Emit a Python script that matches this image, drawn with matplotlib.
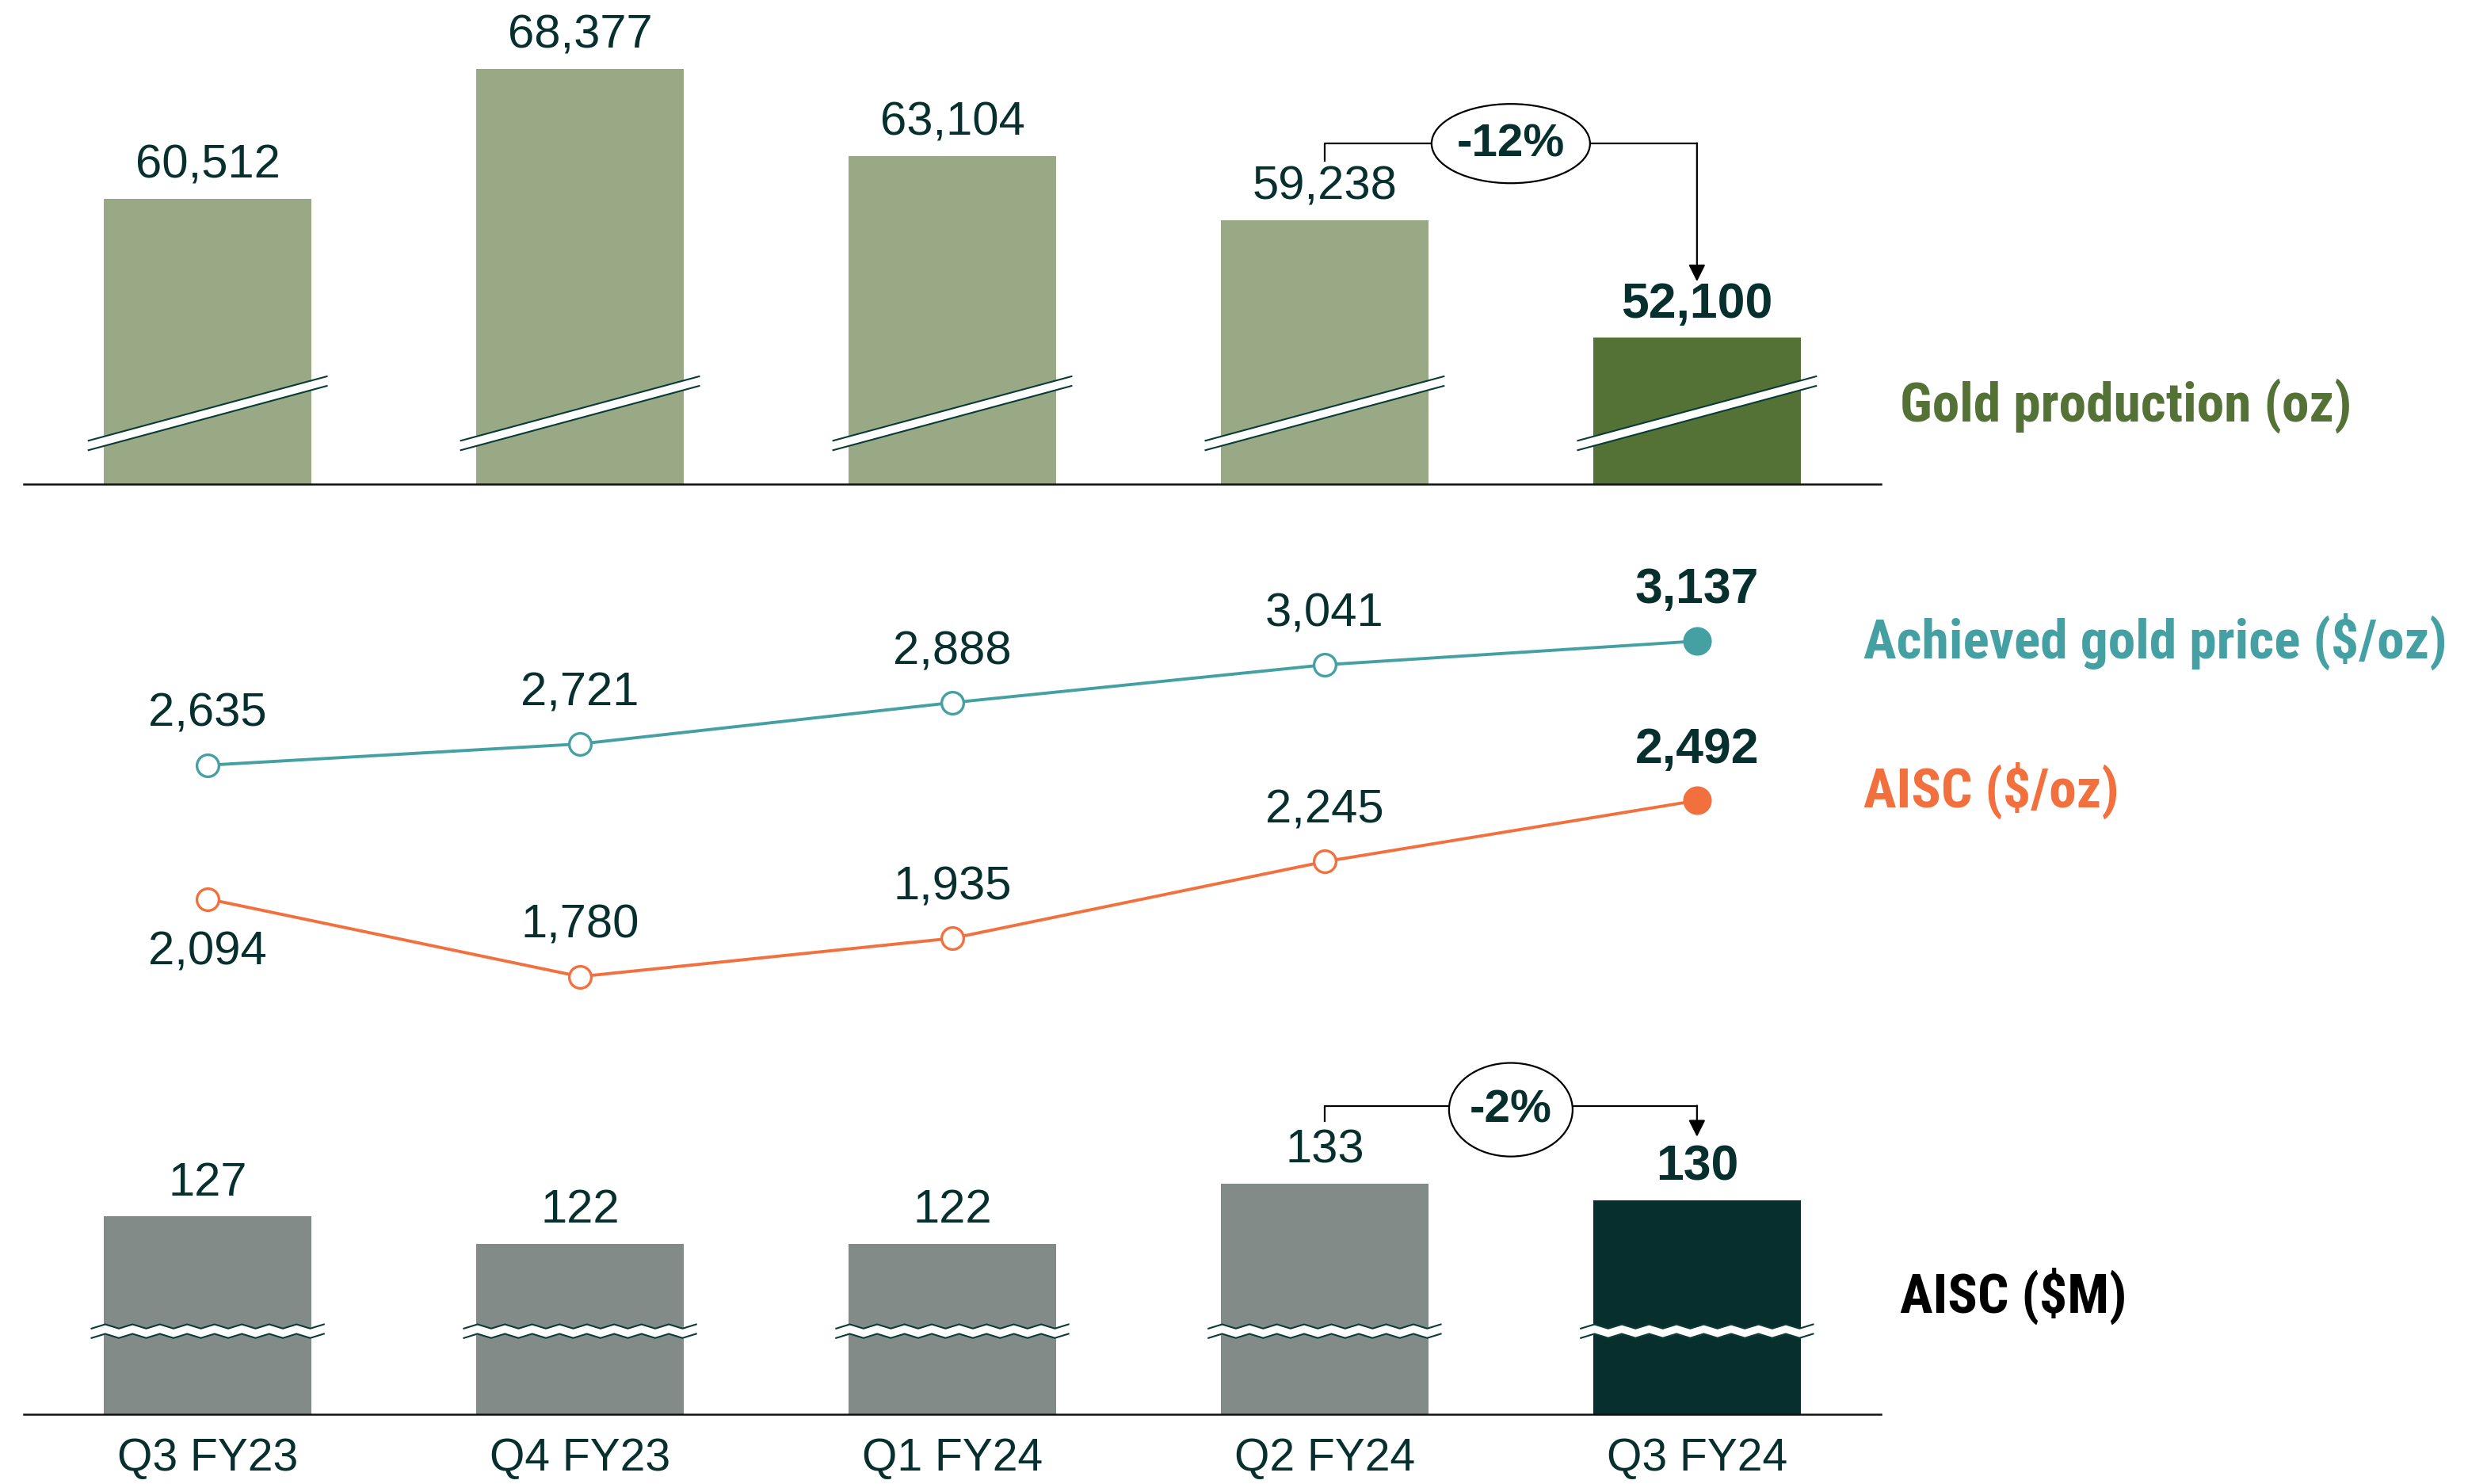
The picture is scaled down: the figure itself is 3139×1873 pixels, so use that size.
import numpy as np
import matplotlib
matplotlib.use("Agg")
import matplotlib.pyplot as plt
from matplotlib import font_manager
from matplotlib.patches import Ellipse, Polygon
from matplotlib.transforms import blended_transform_factory

# ---- data ----
quarters = ["Q3 FY23", "Q4 FY23", "Q1 FY24", "Q2 FY24", "Q3 FY24"]
gold_oz = [60512, 68377, 63104, 59238, 52100]
gold_price = [2635, 2721, 2888, 3041, 3137]
aisc_oz = [2094, 1780, 1935, 2245, 2492]
aisc_m = [127, 122, 122, 133, 130]
aisc_oz_below = [True, False, False, False, False]   # label under the point
gold_change = "-12%"
aisc_change = "-2%"

# ---- style ----
W, H, DPI = 3139, 1874, 200
DARK = "#062F2D"
GREEN_LIGHT = "#99A986"
GREEN = "#557236"
GREY = "#838B89"
TEAL = "#44A0A2"
ORANGE = "#F2703D"
NUM_FONT = ["Liberation Sans", "DejaVu Sans"]
NUM_SIZE, NUM_BOLD = 21.5, 22.5

# series names are a condensed bold face in the original; use one if we have it
installed = {f.name for f in font_manager.fontManager.ttflist}
LAB_FONT, LAB_SIZE = ["Liberation Sans", "DejaVu Sans"], 21.5
for cand, size in (("Roboto Condensed", 25), ("Liberation Sans Narrow", 25)):
    if cand in installed:
        LAB_FONT, LAB_SIZE = [cand, "DejaVu Sans"], size
        break

plt.rcParams["font.family"] = NUM_FONT

fig = plt.figure(figsize=(W / DPI, H / DPI), dpi=DPI)


def axes_px(left, top, right, bottom):
    return fig.add_axes([left / W, 1 - bottom / H, (right - left) / W, (bottom - top) / H])


ax1 = axes_px(30, 20, 2374, 612)
ax2 = axes_px(30, 700, 2374, 1300)
ax3 = axes_px(30, 1330, 2374, 1786)

x = np.arange(len(quarters))
bw = 0.557
for ax in (ax1, ax2, ax3):
    ax.set_xlim(-0.494, 4.494)
    for s in ("top", "right", "left"):
        ax.spines[s].set_visible(False)
    ax.spines["bottom"].set_color("#111111")
    ax.spines["bottom"].set_linewidth(0.9)
    ax.set_yticks([])
    ax.tick_params(axis="x", length=0)
    ax.set_xticks([])
    ax.patch.set_alpha(0)
ax2.spines["bottom"].set_visible(False)

n = len(quarters)


def value_label(ax, i, v, off):
    last = i == n - 1
    ax.annotate(f"{v:,}", (i, v), xytext=(0, off), textcoords="offset points",
                ha="center", va="center", color=DARK,
                fontsize=NUM_BOLD if last else NUM_SIZE,
                fontweight="bold" if last else "normal")


# ---- gold production ----
ax1.set_ylim(43246, 71639)
ax1.bar(x, gold_oz, width=bw, color=[GREEN_LIGHT] * (n - 1) + [GREEN], zorder=2)
for i, v in enumerate(gold_oz):
    value_label(ax1, i, v, 15.5)

tr1 = blended_transform_factory(ax1.transData, ax1.transAxes)
yc, dy, g = 0.151, 0.137, 0.0203
for i in x:
    xl, xr = i - 0.32, i + 0.32
    up = [(xl, yc - dy / 2 + g / 2), (xr, yc + dy / 2 + g / 2)]
    lo = [(xl, yc - dy / 2 - g / 2), (xr, yc + dy / 2 - g / 2)]
    ax1.add_patch(Polygon(up + lo[::-1], closed=True, fc="white", ec="none",
                          transform=tr1, zorder=3))
    for seg in (up, lo):
        ax1.plot(*zip(*seg), color="#0A3A35", lw=0.75, transform=tr1, zorder=4)

# -12% bracket
hy, ly, ay = 0.726, 0.689, 0.432
ew, eh = 0.4255, 0.169
ax1.plot([3, 3, 3.5 - ew / 2], [ly, hy, hy], color="black", lw=0.8,
         transform=tr1, clip_on=False)
ax1.plot([3.5 + ew / 2, 4], [hy, hy], color="black", lw=0.8,
         transform=tr1, clip_on=False)
ax1.annotate("", xy=(4, ay), xytext=(4, hy + 0.001), xycoords=tr1, textcoords=tr1,
             arrowprops=dict(arrowstyle="-|>", color="black", lw=0.8,
                             mutation_scale=16, shrinkA=0, shrinkB=0))
ax1.add_patch(Ellipse((3.5, hy), ew, eh, transform=tr1, fc="white", ec="black",
                      lw=0.8, clip_on=False, zorder=5))
ax1.text(3.5, hy, gold_change, transform=tr1, ha="center", va="center",
         fontsize=21, fontweight="bold", color=DARK, zorder=6)

# ---- price & AISC lines ----
ax2.set_ylim(1567, 3490)
for vals, col in ((gold_price, TEAL), (aisc_oz, ORANGE)):
    ax2.plot(x, vals, color=col, lw=1.4, zorder=2)
    ax2.plot(x[:-1], vals[:-1], "o", ms=10, mfc="white", mec=col, mew=1.2, zorder=3)
    ax2.plot(x[-1:], vals[-1:], "o", ms=12, color=col, zorder=3)

for i, v in enumerate(gold_price):
    value_label(ax2, i, v, 23.5)
for i, v in enumerate(aisc_oz):
    value_label(ax2, i, v, -24 if aisc_oz_below[i] else 23.5)

# ---- AISC $M ----
ax3.set_ylim(90.8, 156.9)
ax3.bar(x, aisc_m, width=bw, color=[GREY] * (n - 1) + [DARK], zorder=2)
for i, v in enumerate(aisc_m):
    value_label(ax3, i, v, 15.5)

tr3 = blended_transform_factory(ax3.transData, ax3.transAxes)
zc, za, zg = 0.23, 0.0058, 0.0263
zx = np.linspace(-0.312, 0.312, 18)
zy = np.where(np.arange(18) % 2 == 0, -za, za)
for i in x:
    upy = zc + zg / 2 + zy
    loy = zc - zg / 2 + zy
    ax3.fill_between(i + zx, loy, upy, color="white", transform=tr3, zorder=3, lw=0)
    ax3.plot(i + zx, upy, color="#0A3A35", lw=0.75, transform=tr3, zorder=4)
    ax3.plot(i + zx, loy, color="#0A3A35", lw=0.75, transform=tr3, zorder=4)

# -2% bracket
hy, ly, ay = 0.853, 0.811, 0.768
ew, eh = 0.332, 0.259
ax3.plot([3, 3, 3.5 - ew / 2], [ly, hy, hy], color="black", lw=0.8,
         transform=tr3, clip_on=False)
ax3.plot([3.5 + ew / 2, 4], [hy, hy], color="black", lw=0.8,
         transform=tr3, clip_on=False)
ax3.annotate("", xy=(4, ay), xytext=(4, hy + 0.001), xycoords=tr3, textcoords=tr3,
             arrowprops=dict(arrowstyle="-|>", color="black", lw=0.8,
                             mutation_scale=16, shrinkA=0, shrinkB=0))
ax3.add_patch(Ellipse((3.5, hy - 0.01), ew, eh, transform=tr3, fc="white", ec="black",
                      lw=0.8, clip_on=False, zorder=5))
ax3.text(3.5, hy - 0.01, aisc_change, transform=tr3, ha="center", va="center",
         fontsize=21, fontweight="bold", color=DARK, zorder=6)

ax3.set_xticks(x)
ax3.set_xticklabels(quarters, fontsize=20.5, color=DARK)
ax3.tick_params(axis="x", pad=10)

# ---- series labels ----
lab = dict(fontsize=LAB_SIZE, fontweight="bold", va="center", ha="left", family=LAB_FONT)
fig.text(2398 / W, 1 - 512 / H, "Gold production (oz)", color=GREEN, **lab)
fig.text(2352 / W, 1 - 810 / H, "Achieved gold price ($/oz)", color=TEAL, **lab)
fig.text(2352 / W, 1 - 998 / H, "AISC ($/oz)", color=ORANGE, **lab)
fig.text(2398 / W, 1 - 1636 / H, "AISC ($M)", color="black", **lab)

fig.savefig("out.png", dpi=DPI, facecolor="white")
